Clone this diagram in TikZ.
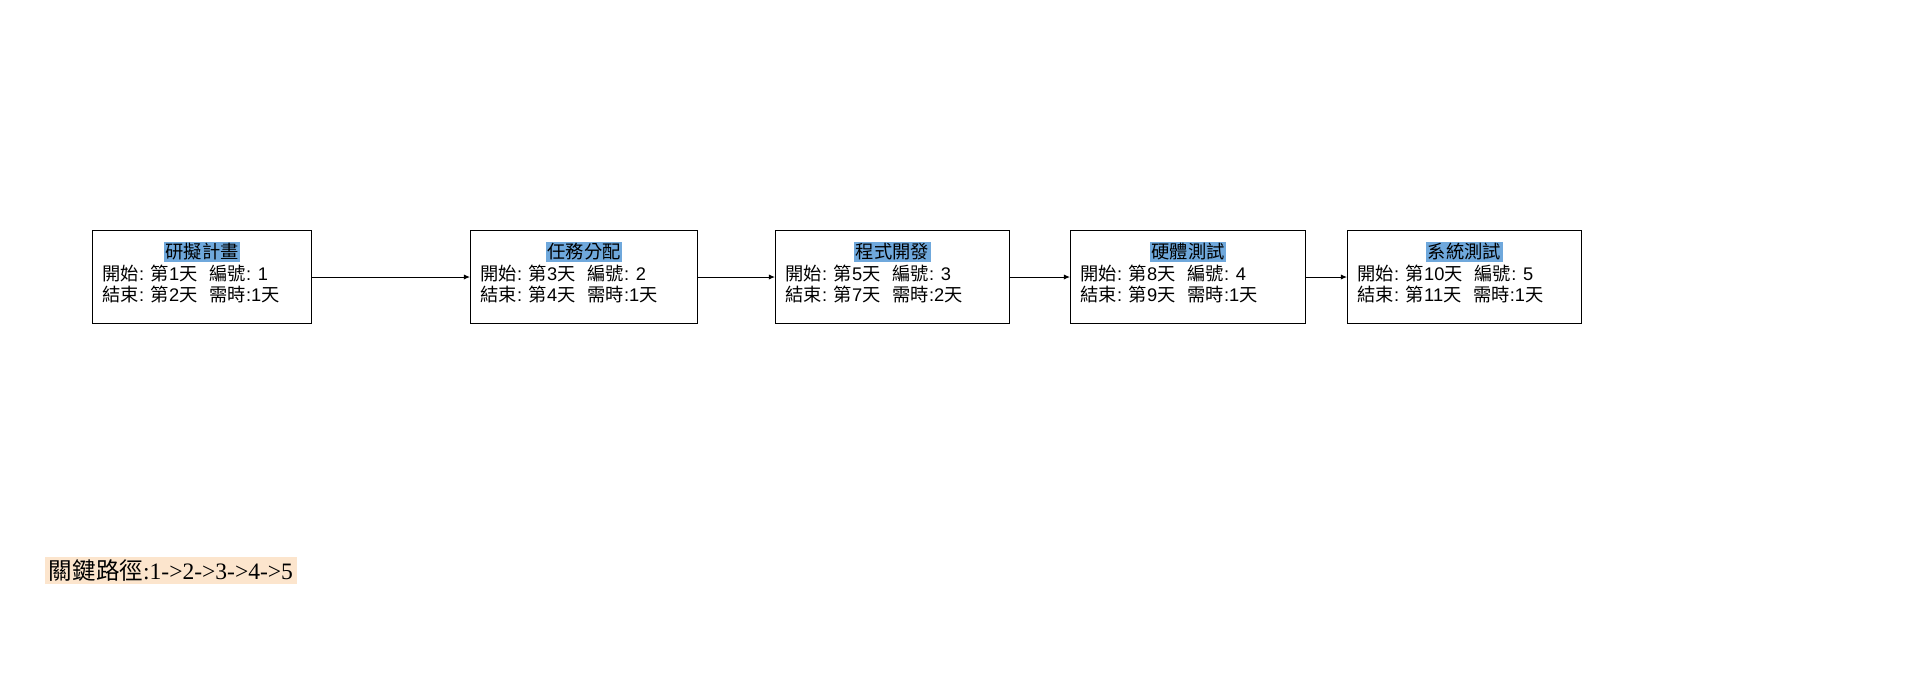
\documentclass[tikz,border=0pt]{standalone}
\usepackage{fontspec}
\setmainfont{Liberation Sans}
\newfontfamily\cjk{Noto Sans CJK TC}
\newfontfamily\notefont{Liberation Serif}
\usetikzlibrary{arrows.meta}
\newcommand\zh[1]{{\cjk #1}}
\definecolor{titleblue}{HTML}{6FA8DC}
\definecolor{pathpeach}{HTML}{FCE5CD}
\setlength{\fboxsep}{1pt}
\tikzset{
  taskbox/.style={draw, line width=0.6pt, minimum height=1.86cm, inner sep=0pt},
  tasktext/.style={align=left, inner sep=0pt, font=\fontsize{10.4pt}{12.2pt}\selectfont},
  pathnote/.style={fill=pathpeach, inner xsep=2.5pt, inner ysep=1.5pt, font=\notefont\fontsize{13.4pt}{15pt}\selectfont},
}
\begin{document}
\begin{tikzpicture}[line width=0.6pt, >={Latex[length=3.5pt,width=3pt]}]
  \useasboundingbox (0,0) rectangle (38.4,13.7);
  % task boxes
  \foreach \n/\x/\w/\title/\s/\e/\d in {1/1.84/4.38/研擬計畫/1/2/1, 2/9.40/4.54/任務分配/3/4/1, 3/15.50/4.68/程式開發/5/7/2, 4/21.40/4.70/硬體測試/8/9/1, 5/26.94/4.68/系統測試/10/11/1} {
    \node[taskbox, minimum width=\w cm, anchor=north west] (t\n) at (\x,9.10) {};
    \node[tasktext, anchor=north west] (l\n) at ([shift={(0.2,-0.22)}]t\n.north west)
      {\makebox[\dimexpr\w cm-0.4cm\relax]{\colorbox{titleblue}{\zh{\title}}}\\
       \zh{開始}: \zh{第}\s\zh{天}\hspace{0.65em}\zh{編號}: \n\\
       \zh{結束}: \zh{第}\e\zh{天}\hspace{0.65em}\zh{需時}:\d\zh{天}};
  }
  \foreach \a/\b in {1/2, 2/3, 3/4, 4/5}
    \draw[->] (t\a.east) -- (t\b.west);
  \node[pathnote, anchor=west] (cp) at (0.88,2.29) {\zh{關鍵路徑}:1->2->3->4->5};
\end{tikzpicture}
\end{document}
